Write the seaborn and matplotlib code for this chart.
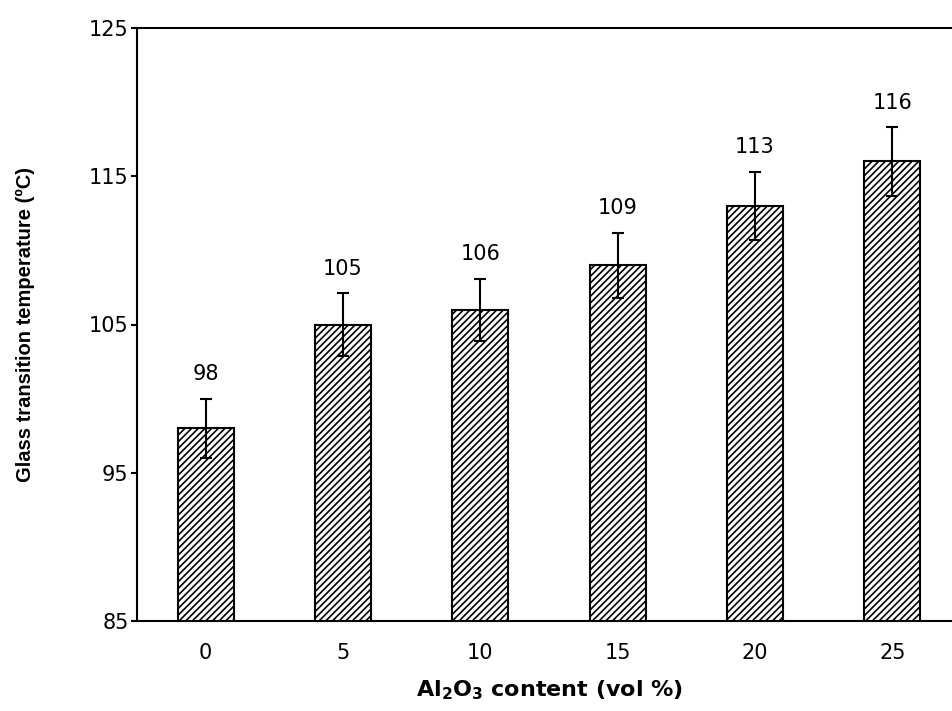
import matplotlib
matplotlib.use("Agg")
import matplotlib.pyplot as plt
from matplotlib import font_manager
import seaborn as sns
import pandas as pd

contents = ["0", "5", "10", "15", "20", "25"]
tg_values = [98, 105, 106, 109, 113, 116]
tg_errors = [2.0, 2.1, 2.1, 2.2, 2.3, 2.3]
y_ticks = [85, 95, 105, 115, 125]

sns.set_theme(style="white")
plt.rcParams["font.family"] = ["DejaVu Sans"]
plt.rcParams["mathtext.fontset"] = "dejavusans"
plt.rcParams["hatch.linewidth"] = 1.2
plt.rcParams["hatch.color"] = "#2a2a2a"

# narrow face for the rotated axis title, if it is installed
installed = {f.name for f in font_manager.fontManager.ttflist}
ylabel_family = ["Liberation Sans Narrow"] if "Liberation Sans Narrow" in installed else ["Liberation Sans"]
ylabel_size = 17 if ylabel_family[0] == "Liberation Sans Narrow" else 14.5

df = pd.DataFrame({"content": contents, "tg": tg_values})

fig = plt.figure(figsize=(9.52, 7.11), dpi=100)
ax = fig.add_axes([137 / 952, 90 / 711, 824 / 952, 593 / 711])

sns.barplot(data=df, x="content", y="tg", color="white", width=0.41,
            edgecolor="black", linewidth=1.5, hatch="/////", ax=ax)

ax.errorbar(range(len(contents)), tg_values, yerr=tg_errors, fmt="none",
            ecolor="black", elinewidth=1.5, capsize=4.5, capthick=1.5, zorder=5)

for i, (v, e) in enumerate(zip(tg_values, tg_errors)):
    ax.annotate(f"{v}", xy=(i, v + e), xytext=(0, 13.5), textcoords="offset points",
                ha="center", va="baseline", fontsize=15, color="black")

ax.set_ylim(85, 125)
ax.set_xlim(-0.5, len(contents) - 0.5)
ax.set_yticks(y_ticks)
ax.set_yticklabels([str(t) for t in y_ticks])
ax.tick_params(axis="y", direction="out", length=4, width=1.5, labelsize=15,
               pad=2, left=True, colors="black")
ax.tick_params(axis="x", length=0, labelsize=15, pad=16, colors="black")

for s in ax.spines.values():
    s.set_color("black")
    s.set_linewidth(1.5)

ax.set_ylabel("Glass transition temperature (\u00baC)", fontsize=ylabel_size,
              fontweight="bold", family=ylabel_family, color="black")
ax.yaxis.set_label_coords((25 - 137) / 824, 0.5)
ax.yaxis.label.set_va("center")
ax.set_xlabel(r"Al$_\mathbf{2}$O$_\mathbf{3}$ content (vol %)", fontsize=16,
              fontweight="bold", color="black")
ax.xaxis.set_label_coords(0.501, (621 - 690) / 593)
ax.xaxis.label.set_va("center")

fig.savefig("out.png", dpi=100)
